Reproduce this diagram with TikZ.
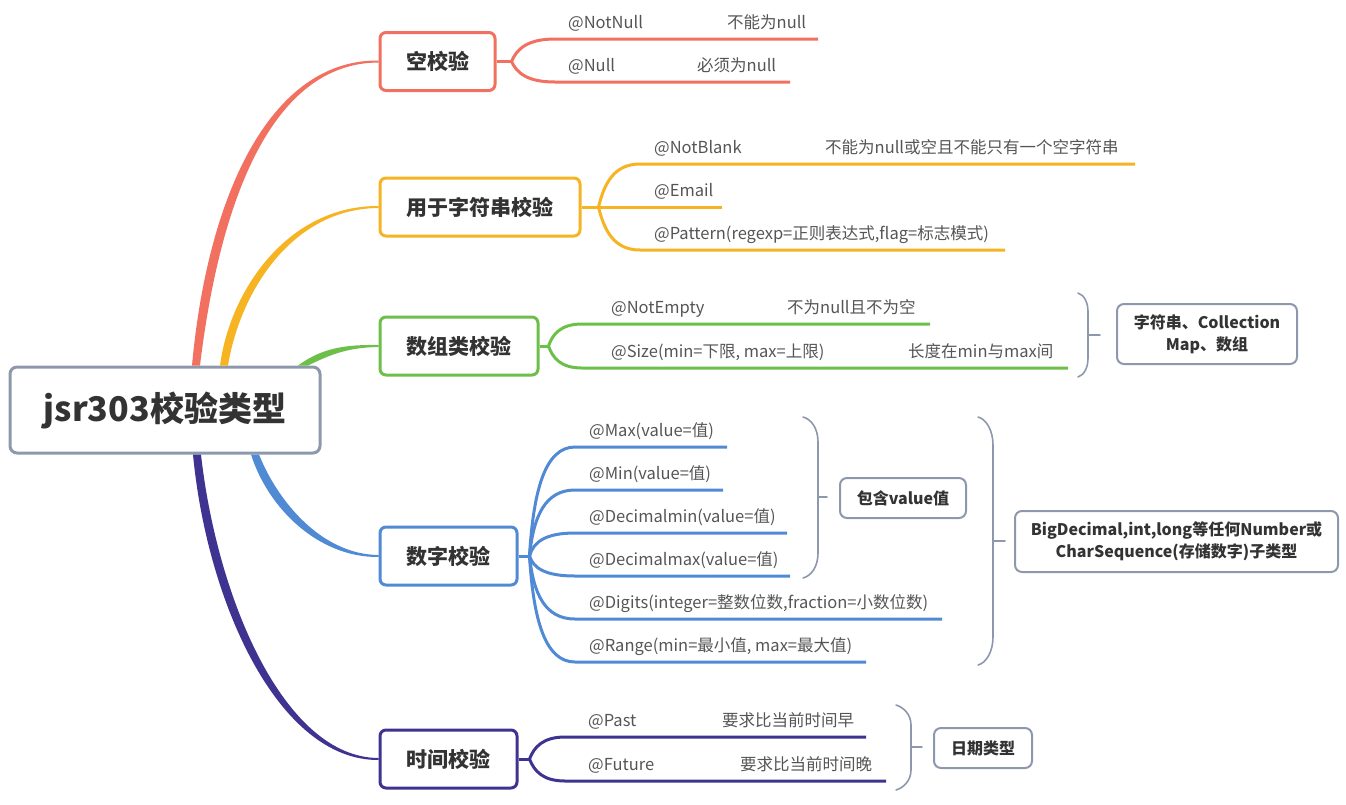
\documentclass[tikz,border=0pt]{standalone}
\usepackage{fontspec}
\setmainfont{Noto Sans CJK SC}
\usetikzlibrary{calc}

\definecolor{mmRed}{HTML}{F2705F}
\definecolor{mmOrange}{HTML}{F6B322}
\definecolor{mmGreen}{HTML}{6CC04A}
\definecolor{mmBlue}{HTML}{5089D4}
\definecolor{mmPurple}{HTML}{3F3391}
\definecolor{mmGray}{HTML}{8D98AD}
\definecolor{mmText}{HTML}{333333}
\definecolor{mmLeaf}{HTML}{555555}

\tikzset{
  rootbox/.style={draw=mmGray, line width=3pt, rounded corners=7pt, fill=white, text=mmText,
    minimum width=310pt, minimum height=86pt, font=\fontsize{34}{40}\selectfont\bfseries},
  catbox/.style={draw=#1, line width=3pt, rounded corners=6pt, fill=white, text=mmText,
    minimum height=58pt, font=\fontsize{21}{25}\selectfont\bfseries},
  sidebox/.style={draw=mmGray, line width=2pt, rounded corners=7pt, fill=white, text=mmText,
    align=center, font=\fontsize{16}{22}\selectfont\bfseries},
  leaf/.style={draw=#1, line width=3pt},
  leaftext/.style={anchor=base west, inner sep=0pt, text=mmLeaf, font=\fontsize{16.5}{19}\selectfont},
  bracket/.style={draw=mmGray, line width=1.6pt, line cap=round},
}

\begin{document}
\begin{tikzpicture}[x=1pt, y=-1pt]
\useasboundingbox (0,0) rectangle (1346,804);

\node[rootbox] (root) at (165,410) {jsr303校验类型};

\node[catbox=mmRed, minimum width=115pt] (null) at (437.5,61.5) {空校验};
\node[catbox=mmOrange, minimum width=200pt] (str) at (480,207) {用于字符串校验};
\node[catbox=mmGreen, minimum width=158pt] (arr) at (459,346) {数组类校验};
\node[catbox=mmBlue, minimum width=137pt] (num) at (448.5,556) {数字校验};
\node[catbox=mmPurple, minimum width=137pt] (date) at (448.5,759) {时间校验};

% main branches, thick at the root and thin at the box
\fill[mmRed] ($(root.north)+(27,0)$) .. controls (207,200) and (268,59.5) .. ($(null.west)+(0,-1)$)
  -- ($(null.west)+(0,1)$) .. controls (272,63) and (220,200) .. ($(root.north)+(35,0)$) -- cycle;
\fill[mmOrange] ($(root.north)+(55,0)$) .. controls (230,290) and (288,205.5) .. ($(str.west)+(0,-1)$)
  -- ($(str.west)+(0,1)$) .. controls (292,208.5) and (240,292) .. ($(root.north)+(63,0)$) -- cycle;
\fill[mmGreen] ($(root.north)+(133,0)$) .. controls (322,348) and (345,344.5) .. ($(arr.west)+(0,-1)$)
  -- ($(arr.west)+(0,1)$) .. controls (345,347.5) and (328,356) .. ($(root.north)+(143,0)$) -- cycle;
\fill[mmBlue] ($(root.south)+(86,0)$) .. controls (268,508) and (318,557.5) .. ($(num.west)+(0,1)$)
  -- ($(num.west)+(0,-1)$) .. controls (322,554.5) and (278,502) .. ($(root.south)+(94,0)$) -- cycle;
\fill[mmPurple] ($(root.south)+(28,0)$) .. controls (207,602) and (278,760.5) .. ($(date.west)+(0,1)$)
  -- ($(date.west)+(0,-1)$) .. controls (284,757.5) and (217,598) .. ($(root.south)+(36,0)$) -- cycle;

% null
\coordinate (nullf) at ($(null.east)+(15,0)$);
\draw[leaf=mmRed] (null.east) -- (nullf);
\foreach \y/\e in {39/818, 82/790}
  \draw[leaf=mmRed] (nullf) .. controls ($(nullf)!0.55!(521,\y)$) and (527,\y) .. (555,\y) -- (\e,\y);
\node[leaftext] (nn1) at (568,28) {@NotNull};
\node[leaftext] (nn2) at (727,28) {不能为null};
\node[leaftext] (nu1) at (568,71) {@Null};
\node[leaftext] (nu2) at (697,71) {必须为null};

% string
\coordinate (strf) at ($(str.east)+(17,0)$);
\draw[leaf=mmOrange] (str.east) -- (strf);
\foreach \y/\e in {164/1135, 207/722, 250/1005}
  \draw[leaf=mmOrange] (strf) .. controls ($(strf)!0.55!(609,\y)$) and (614,\y) .. (640,\y) -- (\e,\y);
\node[leaftext] (nb1) at (654,153) {@NotBlank};
\node[leaftext] (nb2) at (825,153) {不能为null或空且不能只有一个空字符串};
\node[leaftext] (em1) at (654,196) {@Email};
\node[leaftext] (pa1) at (654,239) {@Pattern(regexp=正则表达式,flag=标志模式)};

% array
\coordinate (arrf) at ($(arr.east)+(9,0)$);
\draw[leaf=mmGreen] (arr.east) -- (arrf);
\foreach \y/\e in {324/930, 368/1068}
  \draw[leaf=mmGreen] (arrf) .. controls ($(arrf)!0.55!(556,\y)$) and (561,\y) .. (582,\y) -- (\e,\y);
\node[leaftext] (ne1) at (611,313) {@NotEmpty};
\node[leaftext] (ne2) at (787,313) {不为null且不为空};
\node[leaftext] (si1) at (611,357) {@Size(min=下限, max=上限)};
\node[leaftext] (si2) at (908,357) {长度在min与max间};

% number
\coordinate (numf) at ($(num.east)+(11,0)$);
\draw[leaf=mmBlue] (num.east) -- (numf);
\foreach \y/\e in {447/727, 490/723, 533/787, 576/790, 619/942, 662/866}
  \draw[leaf=mmBlue] (numf) .. controls ($(numf)!0.6!(536,\y)$) and (545,\y) .. (575,\y) -- (\e,\y);
\node[leaftext] (mx) at (589,436) {@Max(value=值)};
\node[leaftext] (mn) at (589,479) {@Min(value=值)};
\node[leaftext] (dmn) at (589,522) {@Decimalmin(value=值)};
\node[leaftext] (dmx) at (589,565) {@Decimalmax(value=值)};
\node[leaftext] (dg) at (589,608) {@Digits(integer=整数位数,fraction=小数位数)};
\node[leaftext] (rg) at (589,651) {@Range(min=最小值, max=最大值)};

% date
\coordinate (datef) at ($(date.east)+(11,0)$);
\draw[leaf=mmPurple] (date.east) -- (datef);
\foreach \y/\e in {737/866, 781/886}
  \draw[leaf=mmPurple] (datef) .. controls ($(datef)!0.55!(538,\y)$) and (543,\y) .. (565,\y) -- (\e,\y);
\node[leaftext] (pa1) at (588,726) {@Past};
\node[leaftext] (pa2) at (722,726) {要求比当前时间早};
\node[leaftext] (fu1) at (588,770) {@Future};
\node[leaftext] (fu2) at (740,770) {要求比当前时间晚};

% summaries
\draw[bracket] (1078,293) .. controls (1084,295) and (1088,302) .. (1088,312) -- (1088,358) .. controls (1088,368) and (1084,375) .. (1078,377);
\coordinate (arrb) at (1088,335);
\draw[bracket] (arrb) -- ++(12,0);
\node[sidebox, minimum width=180pt, minimum height=60pt] (arrtype) at (1207,334) {字符串、Collection\\Map、数组};

\draw[bracket] (803,417) .. controls (811,419) and (818,428) .. (818,442) -- (818,553) .. controls (818,567) and (811,576) .. (803,578);
\coordinate (valb) at (818,497);
\draw[bracket] (valb) -- ++(9,0);
\node[sidebox, minimum width=126pt, minimum height=40pt] (valtype) at (903,498) {包含value值};

\draw[bracket] (978,417) .. controls (986,419) and (993,430) .. (993,445) -- (993,637) .. controls (993,652) and (986,663) .. (978,665);
\coordinate (numb) at (993,541);
\draw[bracket] (numb) -- ++(12,0);
\node[sidebox, minimum width=323pt, minimum height=61pt] (numtype) at (1176.5,541.5) {BigDecimal,int,long等任何Number或\\CharSequence(存储数字)子类型};

\draw[bracket] (896,705) .. controls (903,707) and (911,714) .. (911,725) -- (911,770) .. controls (911,781) and (903,788) .. (896,790);
\coordinate (dateb) at (911,747);
\draw[bracket] (dateb) -- ++(11,0);
\node[sidebox, minimum width=98pt, minimum height=40pt] (datetype) at (983,748) {日期类型};

\end{tikzpicture}
\end{document}
